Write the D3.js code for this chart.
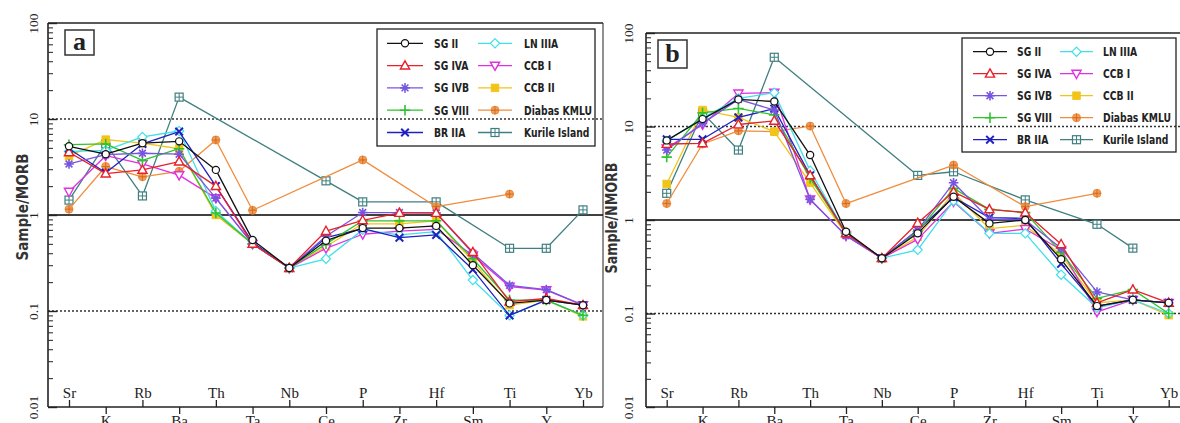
<!DOCTYPE html>
<html><head><meta charset="utf-8">
<script src="https://cdn.jsdelivr.net/npm/d3@7/dist/d3.min.js"></script>
<style>body{margin:0;background:#fff} svg{display:block}</style>
</head><body><svg id="c" width="1180" height="423"></svg>
<script>
// ---------- DATA ----------
const categories = ["Sr","K","Rb","Ba","Th","Ta","Nb","Ce","P","Zr","Hf","Sm","Ti","Y","Yb"];
const seriesNames = ["SG II","SG IVA","SG IVB","SG VIII","BR IIA","LN IIIA","CCB I","CCB II","Diabas KMLU","Kurile Island"];
const yMajorTicks = [0.01, 0.1, 1, 10, 100];
const yTickLabels = ["0.01", "0.1", "1", "10", "100"];
const panelLabels = ["a", "b"];
const yTitles = ["Sample/MORB", "Sample/NMORB"];

// Panel a (MORB-normalised)
const a_SGII    = [5.2, 4.3, 5.6, 5.85, 2.95, 0.55, 0.28, 0.54, 0.73, 0.73, 0.77, 0.30, 0.12, 0.13, 0.115];
const a_SGIVA   = [4.5, 2.7, 2.95, 3.6, 2.0, 0.5, 0.28, 0.68, 0.88, 1.05, 1.05, 0.41, 0.125, 0.135, 0.115];
const a_SGIVB   = [3.4, 4.25, 4.4, 4.3, 1.5, 0.5, 0.28, 0.60, 1.06, 1.06, 1.05, 0.40, 0.185, 0.167, 0.115];
const a_SGVIII  = [5.4, 5.5, 3.7, 4.9, 1.05, 0.5, 0.28, 0.50, 0.87, 0.87, 0.87, 0.35, 0.13, 0.13, 0.09];
const a_BRIIA   = [4.9, 2.75, 5.5, 7.4, 2.0, 0.52, 0.28, 0.58, 0.72, 0.58, 0.62, 0.27, 0.09, 0.13, 0.115];
const a_LNIIIA  = [4.6, 4.7, 6.5, 7.5, 1.1, 0.5, 0.28, 0.35, 0.70, 0.62, 0.67, 0.21, 0.09, 0.13, 0.09];
const a_CCBI    = [1.75, 4.15, 3.4, 2.6, 1.5, 0.5, 0.28, 0.45, 0.63, 0.68, 0.71, 0.38, 0.18, 0.165, 0.115];
const a_CCBII   = [4.1, 6.1, 5.6, 4.9, 1.0, 0.5, 0.28, 0.47, 0.81, 0.81, 0.87, 0.33, 0.115, 0.13, 0.088];
const a_Diabas  = [1.15, 3.2, 2.5, 2.85, 6.05, 1.12, null, null, 3.75, null, 1.22, null, 1.65, null, null];
const a_Kurile  = [1.43, 5.5, 1.58, 16.9, null, null, null, 2.27, 1.37, null, 1.37, null, 0.45, 0.45, 1.13];

// Panel b (NMORB-normalised)
const b_SGII    = [7.1, 12, 19.5, 18.5, 4.95, 0.75, 0.39, 0.72, 1.77, 0.92, 1.0, 0.38, 0.12, 0.14, 0.13];
const b_SGIVA   = [6.5, 6.6, 10.5, 11.5, 3.0, 0.72, 0.39, 0.93, 2.0, 1.3, 1.2, 0.55, 0.13, 0.18, 0.13];
const b_SGIVB   = [5.6, 10.8, 19.5, 15, 1.66, 0.68, 0.39, 0.78, 2.5, 1.02, 1.0, 0.50, 0.17, 0.14, 0.13];
const b_SGVIII  = [4.7, 14, 15.6, 13.3, 2.8, 0.72, 0.39, 0.75, 2.18, 1.3, 1.2, 0.45, 0.145, 0.18, 0.10];
const b_BRIIA   = [7.3, 7.3, 12.5, 15.5, 3.0, 0.72, 0.39, 0.78, 1.75, 1.06, 1.04, 0.34, 0.12, 0.14, 0.13];
const b_LNIIIA  = [7.0, 12.3, 20, 23, 3.37, 0.72, 0.39, 0.48, 1.6, 0.72, 0.72, 0.26, 0.115, 0.14, 0.10];
const b_CCBI    = [5.85, 10.5, 22.6, 23, 1.66, 0.68, 0.39, 0.62, 1.57, 0.72, 0.80, 0.48, 0.104, 0.14, 0.13];
const b_CCBII   = [2.43, 15, 12.5, 8.8, 2.5, 0.70, 0.39, 0.66, 1.96, 0.81, 0.88, 0.42, 0.13, 0.14, 0.096];
const b_Diabas  = [1.5, 6.5, 9.0, 8.8, 10.1, 1.5, null, null, 3.87, null, 1.39, null, 1.93, null, null];
const b_Kurile  = [1.93, 14, 5.6, 55, null, null, null, 3.0, 3.28, null, 1.64, null, 0.9, 0.5, null];

// ---------- STYLE ----------
const seriesColors = ["#111111","#e8202a","#7755e0","#2ec42e","#2020c0","#3ee0ea","#e030e0","#f2c418","#f08c3c","#3f7f80"];
const seriesSymbols = ["circle","triangle","asterisk","plus","cross","diamond","triangleDown","square","circlePlus","squarePlus"];

const panels = [
  { values: [a_SGII,a_SGIVA,a_SGIVB,a_SGVIII,a_BRIIA,a_LNIIIA,a_CCBI,a_CCBII,a_Diabas,a_Kurile],
    left: 48, right: 603, top: 23, bottom: 407, x0: 69, x1: 583, rightFrame: true,
    yLabelOff: -15, titleX: 22, titleY: 207, titleLen: 107,
    box: [65, 30, 29, 25],
    legend: { x: 377, y: 29, w: 218, h: 117, row0: 43.3, dy: 22.3,
              cols: [{l0: 387, l1: 423, t: 434}, {l0: 478, l1: 512, t: 524}] } },
  { values: [b_SGII,b_SGIVA,b_SGIVB,b_SGVIII,b_BRIIA,b_LNIIIA,b_CCBI,b_CCBII,b_Diabas,b_Kurile],
    left: 646, right: 1180, top: 33, bottom: 407, x0: 666.7, x1: 1168.7, rightFrame: false,
    yLabelOff: -18, titleX: 611, titleY: 218, titleLen: 111,
    box: [658, 40, 29, 28],
    legend: { x: 962, y: 38, w: 214, h: 114, row0: 51.7, dy: 22,
              cols: [{l0: 973, l1: 1007, t: 1017}, {l0: 1060, l1: 1093, t: 1103}] } }
];

const svg = d3.select("#c");
const serif = "'Liberation Serif','Times New Roman',serif";
const narrow = "'Liberation Sans Narrow','DejaVu Sans Condensed','Arial Narrow',sans-serif";

function marker(g, type, color, cx, cy) {
  const m = g.append("g").attr("transform", `translate(${cx},${cy})`);
  const sw = 1.2;
  switch (type) {
    case "circle":
      m.append("circle").attr("r", 3.6).attr("fill", "#fff").attr("stroke", color).attr("stroke-width", sw); break;
    case "triangle":
      m.append("path").attr("d", "M0,-4.8L4.6,3.4L-4.6,3.4Z").attr("fill", "#fff").attr("stroke", color).attr("stroke-width", 1.4); break;
    case "triangleDown":
      m.append("path").attr("d", "M0,4.8L4.6,-3.4L-4.6,-3.4Z").attr("fill", "#fff").attr("stroke", color).attr("stroke-width", 1.4); break;
    case "diamond":
      m.append("path").attr("d", "M0,-4.6L4.6,0L0,4.6L-4.6,0Z").attr("fill", "#fff").attr("stroke", color).attr("stroke-width", sw); break;
    case "asterisk":
      m.append("path").attr("d", "M-4.8,0H4.8M0,-4.8V4.8M-3.4,-3.4L3.4,3.4M-3.4,3.4L3.4,-3.4").attr("stroke", color).attr("stroke-width", 1.6).attr("fill", "none"); break;
    case "plus":
      m.append("path").attr("d", "M-5.2,0H5.2M0,-5.2V5.2").attr("stroke", color).attr("stroke-width", 1.6).attr("fill", "none"); break;
    case "cross":
      m.append("path").attr("d", "M-3.8,-3.8L3.8,3.8M-3.8,3.8L3.8,-3.8").attr("stroke", color).attr("stroke-width", 2).attr("fill", "none"); break;
    case "square":
      m.append("rect").attr("x", -3.8).attr("y", -3.8).attr("width", 7.6).attr("height", 7.6).attr("fill", color).attr("stroke", color).attr("stroke-width", 0.8); break;
    case "circlePlus":
      m.append("circle").attr("r", 4).attr("fill", color).attr("fill-opacity", 0.85).attr("stroke", color).attr("stroke-width", 1);
      m.append("path").attr("d", "M-4,0H4M0,-4V4").attr("stroke", "#c9651c").attr("stroke-width", 0.8); break;
    case "squarePlus":
      m.append("rect").attr("x", -4).attr("y", -4).attr("width", 8).attr("height", 8).attr("fill", "#fff").attr("stroke", color).attr("stroke-width", 1.2);
      m.append("path").attr("d", "M-4,0H4M0,-4V4").attr("stroke", color).attr("stroke-width", 1); break;
  }
}

panels.forEach((p, pi) => {
  const g = svg.append("g");
  const x = d3.scalePoint().domain(categories).range([p.x0, p.x1]).padding(0);
  const y = d3.scaleLog().domain([0.01, 100]).range([p.bottom, p.top]);

  // reference lines
  [[10, true], [0.1, true], [1, false]].forEach(([v, dotted]) => {
    g.append("line").attr("x1", p.left).attr("x2", p.right).attr("y1", y(v)).attr("y2", y(v))
      .attr("stroke", dotted ? "#333" : "#000").attr("stroke-width", dotted ? 1.3 : 1.4)
      .attr("stroke-dasharray", dotted ? "2,2" : null);
  });

  // frame
  const fr = g.append("g").attr("stroke", "#222").attr("stroke-width", 1.6);
  fr.append("line").attr("x1", p.left).attr("x2", p.right).attr("y1", p.top).attr("y2", p.top);
  fr.append("line").attr("x1", p.left).attr("x2", p.right).attr("y1", p.bottom).attr("y2", p.bottom);
  fr.append("line").attr("x1", p.left).attr("x2", p.left).attr("y1", p.top).attr("y2", p.bottom);
  if (p.rightFrame) fr.append("line").attr("x1", p.right).attr("x2", p.right).attr("y1", p.top).attr("y2", p.bottom).attr("stroke-width", 1);

  // y axis ticks (inward)
  const minor = [];
  for (let e = -2; e < 2; e++) for (let k = 2; k <= 9; k++) minor.push(k * Math.pow(10, e));
  g.append("g").attr("transform", `translate(${p.left},0)`)
    .call(d3.axisRight(y).tickValues(minor).tickSize(5).tickFormat(""))
    .call(s => { s.select(".domain").remove(); s.selectAll("line").attr("stroke", "#333").attr("stroke-width", 1.1); });
  g.append("g").attr("transform", `translate(${p.left},0)`)
    .call(d3.axisRight(y).tickValues(yMajorTicks).tickSize(9).tickFormat(""))
    .call(s => { s.select(".domain").remove(); s.selectAll("line").attr("stroke", "#222").attr("stroke-width", 1.4); });
  g.append("g").attr("transform", `translate(${p.left},0)`)
    .call(d3.axisLeft(y).tickValues(yMajorTicks).tickSize(0).tickFormat((d, i) => yTickLabels[i]))
    .call(s => {
      s.select(".domain").remove();
      s.selectAll("text").attr("x", 0).attr("y", 0).attr("dy", "0.35em").attr("text-anchor", "middle")
        .attr("transform", `translate(${p.yLabelOff},0) rotate(-90)`)
        .attr("font-family", serif).attr("font-size", 13.5).attr("fill", "#222");
    });

  // x axes: alternating labels above / below
  const up = categories.filter((d, i) => i % 2 === 0);
  const down = categories.filter((d, i) => i % 2 === 1);
  g.append("g").attr("transform", `translate(0,${p.bottom})`)
    .call(d3.axisTop(x).tickValues(up).tickSize(7).tickPadding(2))
    .call(s => { s.select(".domain").remove(); s.selectAll("line").attr("stroke", "#222").attr("stroke-width", 1.3);
      s.selectAll("text").attr("font-family", serif).attr("font-size", 15).attr("fill", "#222"); });
  g.append("g").attr("transform", `translate(0,${p.bottom})`)
    .call(d3.axisBottom(x).tickValues(down).tickSize(7).tickPadding(1))
    .call(s => { s.select(".domain").remove(); s.selectAll("line").attr("stroke", "#222").attr("stroke-width", 1.3);
      s.selectAll("text").attr("font-family", serif).attr("font-size", 15).attr("fill", "#222"); });

  // y title
  g.append("text").attr("transform", `translate(${p.titleX},${p.titleY}) rotate(-90)`)
    .attr("text-anchor", "middle").attr("dy", "0.35em")
    .attr("font-family", narrow).attr("font-weight", "bold").attr("font-size", 16).attr("fill", "#333")
    .attr("textLength", p.titleLen).attr("lengthAdjust", "spacingAndGlyphs")
    .text(yTitles[pi]);

  // panel label
  g.append("rect").attr("x", p.box[0]).attr("y", p.box[1]).attr("width", p.box[2]).attr("height", p.box[3])
    .attr("fill", "#fff").attr("stroke", "#333").attr("stroke-width", 1.5);
  g.append("text").attr("x", p.box[0] + p.box[2] / 2).attr("y", p.box[1] + p.box[3] / 2).attr("dy", "0.3em")
    .attr("text-anchor", "middle").attr("font-family", serif).attr("font-weight", "bold").attr("font-size", 26)
    .attr("fill", "#222").text(panelLabels[pi]);

  // series
  const line = d3.line().x(d => x(d.c)).y(d => y(d.v));
  const order = [9, 8, 7, 6, 5, 4, 3, 2, 1, 0];
  order.forEach(si => {
    const pts = categories.map((c, i) => ({ c, v: p.values[si][i] })).filter(d => d.v != null);
    g.append("path").datum(pts).attr("d", line).attr("fill", "none")
      .attr("stroke", seriesColors[si]).attr("stroke-width", 1.3).attr("stroke-linejoin", "round");
    const mg = g.append("g");
    pts.forEach(d => marker(mg, seriesSymbols[si], seriesColors[si], x(d.c), y(d.v)));
  });

  // legend
  const L = p.legend;
  g.append("rect").attr("x", L.x).attr("y", L.y).attr("width", L.w).attr("height", L.h)
    .attr("fill", "none").attr("stroke", "#222").attr("stroke-width", 1.3);
  seriesNames.forEach((name, si) => {
    const col = L.cols[Math.floor(si / 5)];
    const yy = L.row0 + (si % 5) * L.dy;
    g.append("line").attr("x1", col.l0).attr("x2", col.l1).attr("y1", yy).attr("y2", yy)
      .attr("stroke", seriesColors[si]).attr("stroke-width", 1.3);
    marker(g, seriesSymbols[si], seriesColors[si], (col.l0 + col.l1) / 2, yy);
    const t = g.append("text").attr("x", col.t).attr("y", yy).attr("dy", "0.35em")
      .attr("font-family", narrow).attr("font-weight", "bold").attr("font-size", 12.5).attr("fill", "#222")
      .text(name);
    const w = t.node().getComputedTextLength();
    t.attr("textLength", w * 0.82).attr("lengthAdjust", "spacingAndGlyphs");
  });
});
</script>
</body></html>
